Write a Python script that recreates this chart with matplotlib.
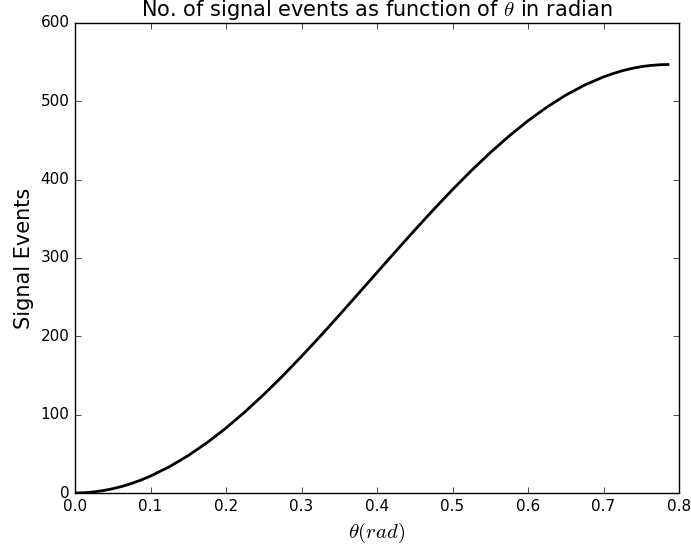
import matplotlib
matplotlib.use('Agg')
from matplotlib import pyplot as plt

# values
theta = [0.0, 0.0125, 0.025, 0.0375, 0.05, 0.0625, 0.075, 0.0875, 0.1, 0.125, 0.15, 0.175, 0.2, 0.225, 0.25,
         0.275, 0.3, 0.325, 0.35, 0.375, 0.4, 0.425, 0.45, 0.475, 0.5, 0.525,
         0.55, 0.575, 0.6, 0.625, 0.65, 0.675, 0.7, 0.7125, 0.725, 0.7375, 0.75, 0.7625, 0.775, 0.7854]
events = [0, 0.34, 1.4, 3.1, 5.5, 8.5, 12.2, 16.6, 21.6, 33.5, 47.8, 64.3, 82.9, 103.5, 125.7,
          149.4, 174.4, 200.3, 227.0, 254.2, 281.5, 308.7, 335.6, 361.9, 387.3,
          411.6, 434.5, 455.7, 475.2, 492.6, 507.9, 520.8, 531.2, 535.4, 539.1, 542.0, 544.3, 545.8, 546.7, 547.0]

plt.style.use('classic')
plt.rcParams['figure.facecolor'] = 'white'
plt.rcParams['savefig.facecolor'] = 'white'

fig = plt.figure(figsize=(6.91, 5.52), dpi=100)
ax = fig.add_axes([75/691, 1 - 493/552, 604/691, 470/552])
ax.plot(theta, events, color='black', linewidth=2)
ax.set_xlim(0, 0.8)
ax.set_ylim(0, 600)
ax.set_xticks([0.0, 0.1, 0.2, 0.3, 0.4, 0.5, 0.6, 0.7, 0.8])
ax.set_yticks([0, 100, 200, 300, 400, 500, 600])
ax.tick_params(labelsize=11)
ax.set_xlabel(r'$\theta(rad)$', fontsize=15)
ax.set_ylabel('Signal Events', fontsize=15)
ax.set_title(r'No. of signal events as function of $\theta$ in radian', fontsize=15)

fig.savefig('out.png', dpi=100)
